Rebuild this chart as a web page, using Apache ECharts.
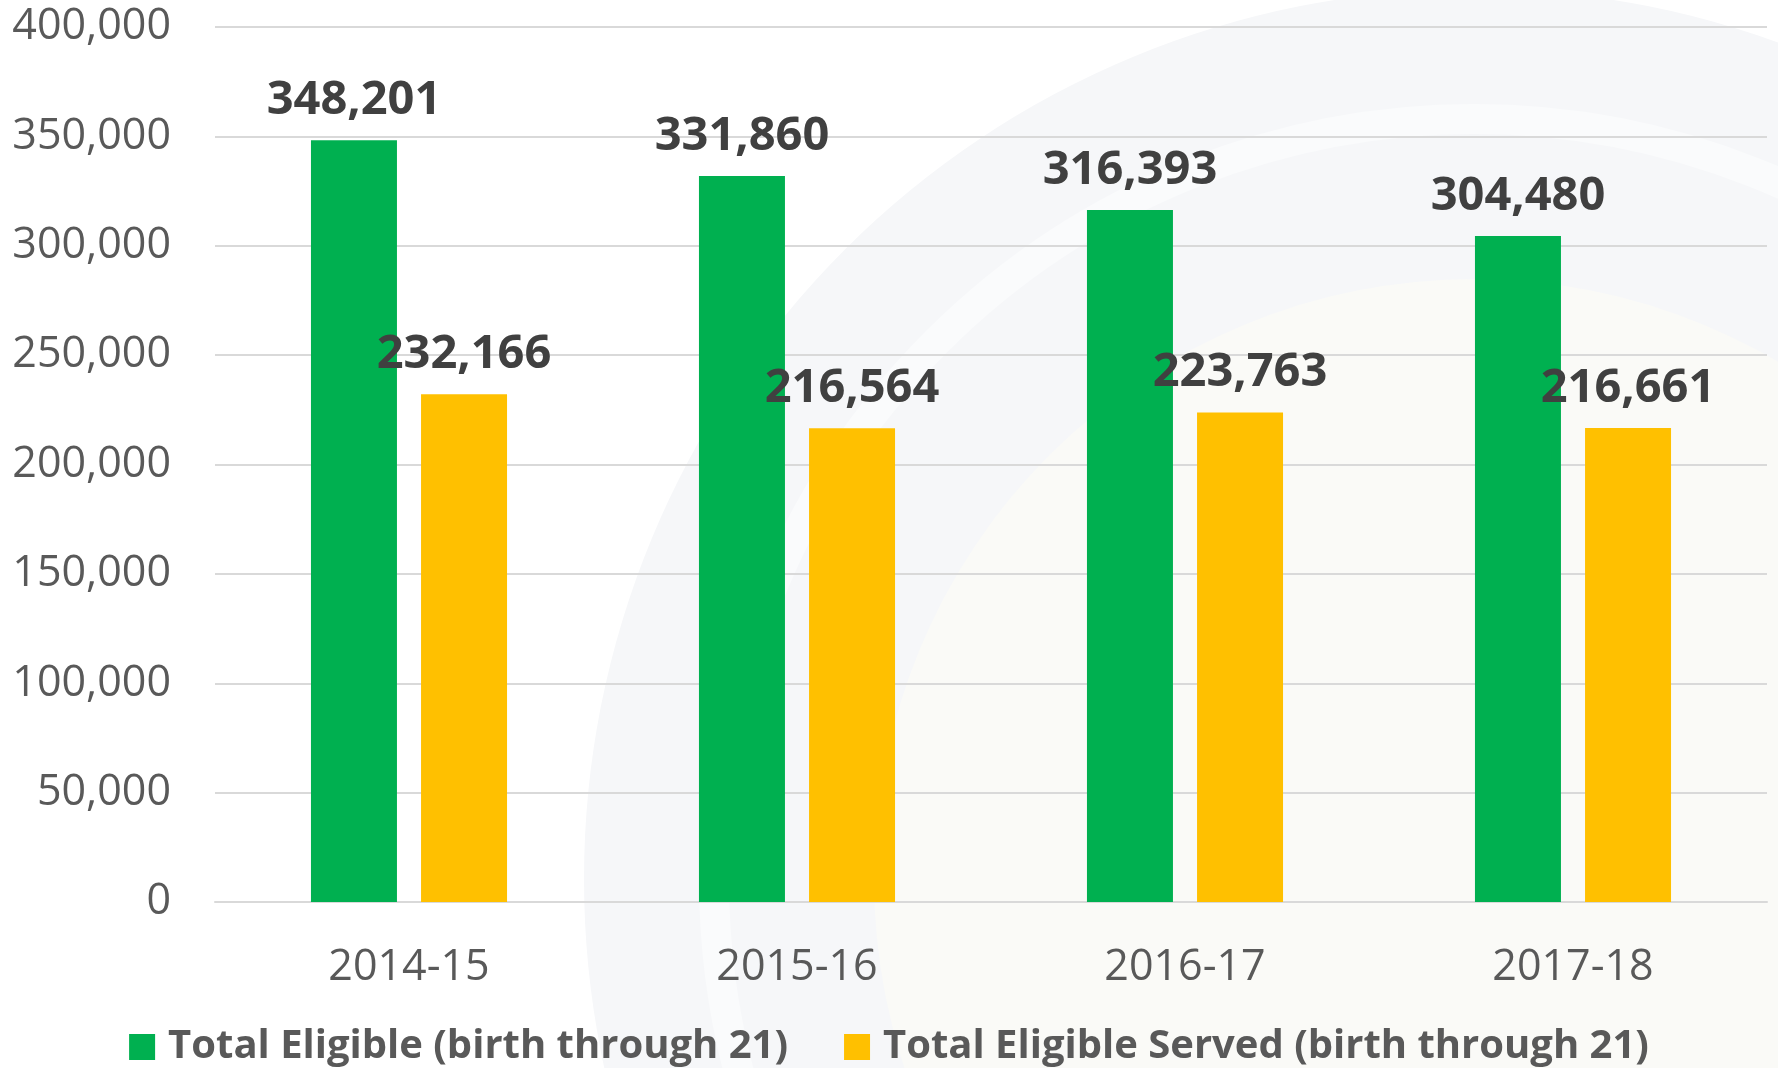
<!DOCTYPE html>
<html>
<head>
<meta charset="utf-8">
<script src="https://cdn.jsdelivr.net/npm/echarts@6/dist/echarts.min.js"></script>
<style>
html,body{margin:0;padding:0;background:#ffffff;}
#chart{width:1778px;height:1068px;}
</style>
</head>
<body>
<div id="chart"></div>
<script>
var categories = ['2014-15', '2015-16', '2016-17', '2017-18'];
var totalEligible = [348201, 331860, 316393, 304480];
var totalServed = [232166, 216564, 223763, 216661];
var seriesNames = ['Total Eligible (birth through 21)', 'Total Eligible Served (birth through 21)'];

var FONT = '"Open Sans", "Noto Sans", sans-serif';
var chart = echarts.init(document.getElementById('chart'), null, {renderer: 'canvas'});
var fmt = function (v) { return echarts.format.addCommas(v); };

chart.setOption({
  backgroundColor: '#ffffff',
  animation: false,
  graphic: [
    {type: 'circle', z: -10, silent: true, shape: {cx: 1474, cy: 879, r: 890}, style: {fill: '#f6f7f9'}},
    {type: 'circle', z: -9, silent: true, shape: {cx: 1474, cy: 879, r: 760}, style: {fill: 'none', stroke: '#fafbfc', lineWidth: 30}},
    {type: 'circle', z: -9, silent: true, shape: {cx: 1474, cy: 879, r: 600}, style: {fill: '#fafaf7'}}
  ],
  grid: {left: 215, right: 11, top: 27, bottom: 166, containLabel: false},
  legend: {
    top: 1022,
    left: 'center',
    itemWidth: 26,
    itemHeight: 26,
    itemGap: 56,
    icon: 'rect',
    textStyle: {fontFamily: FONT, fontSize: 40, fontWeight: 'bold', color: '#595959', padding: [0, 0, 0, 8]},
    data: seriesNames
  },
  xAxis: {
    type: 'category',
    data: categories,
    axisLine: {show: true, lineStyle: {color: '#d9d9d9', width: 2}},
    axisTick: {show: false},
    axisLabel: {fontFamily: FONT, fontSize: 43, color: '#595959', margin: 44}
  },
  yAxis: {
    type: 'value',
    min: 0,
    max: 400000,
    interval: 50000,
    axisLine: {show: false},
    axisTick: {show: false},
    splitLine: {lineStyle: {color: '#d9d9d9', width: 2}},
    axisLabel: {fontFamily: FONT, fontSize: 43, color: '#595959', margin: 44, formatter: fmt}
  },
  series: [
    {
      name: seriesNames[0],
      type: 'bar',
      data: totalEligible,
      barWidth: 86,
      barGap: '28%',
      itemStyle: {color: '#00b050'},
      label: {show: true, position: 'top', distance: 16, fontFamily: FONT, fontSize: 47, fontWeight: 'bold', color: '#404040', formatter: function (p) { return fmt(p.value); }}
    },
    {
      name: seriesNames[1],
      type: 'bar',
      data: totalServed,
      barWidth: 86,
      barGap: '28%',
      itemStyle: {color: '#ffc000'},
      label: {show: true, position: 'top', distance: 16, fontFamily: FONT, fontSize: 47, fontWeight: 'bold', color: '#404040', formatter: function (p) { return fmt(p.value); }}
    }
  ]
});
</script>
</body>
</html>
